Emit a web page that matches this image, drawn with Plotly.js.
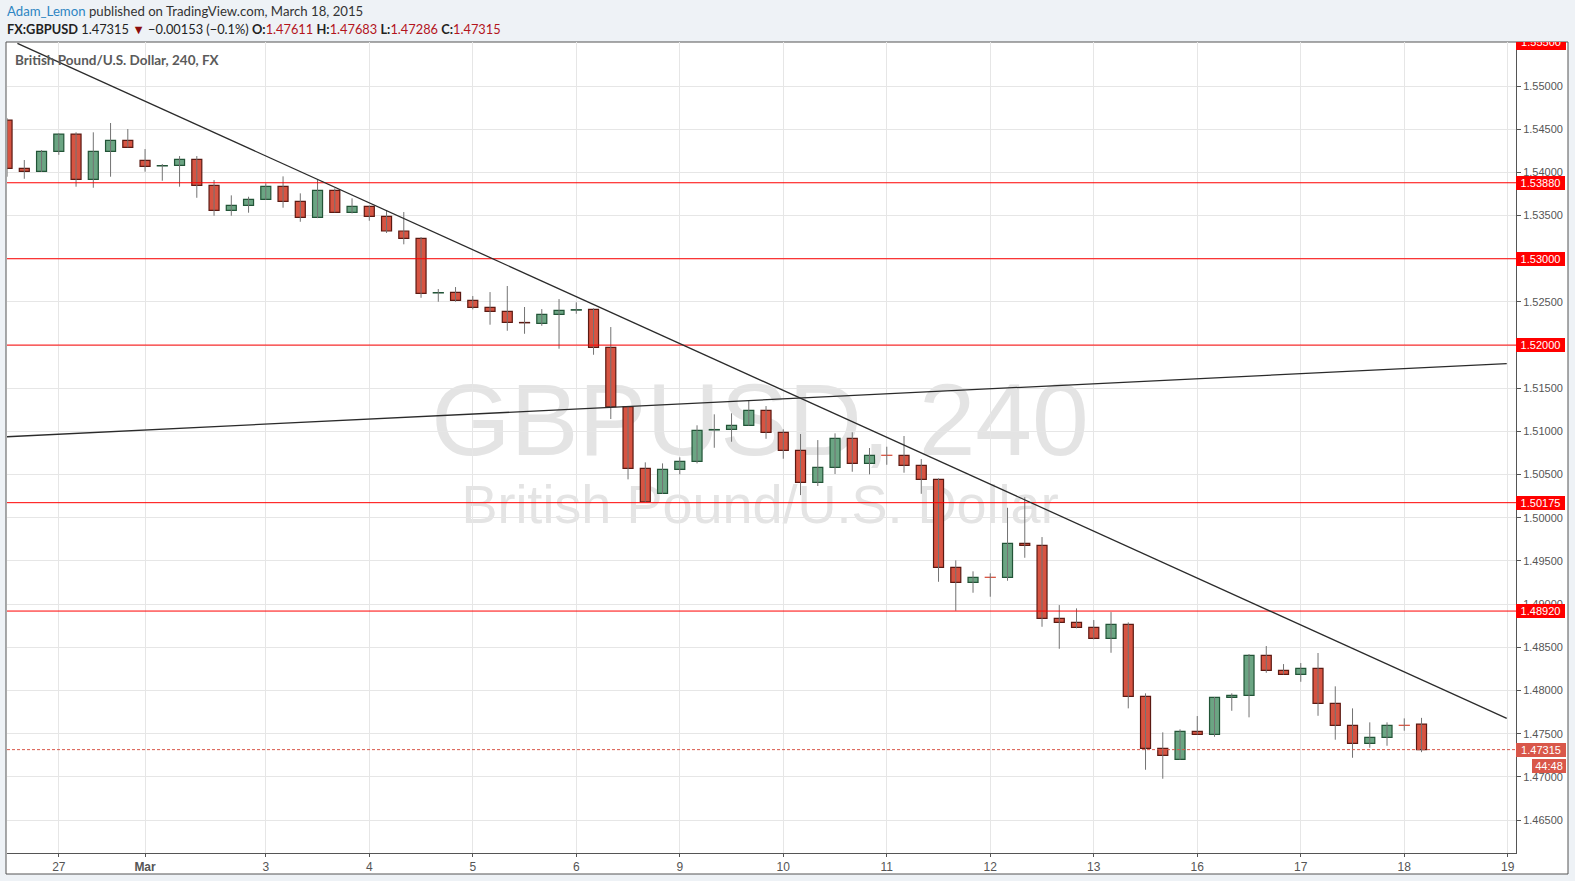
<!DOCTYPE html>
<html><head><meta charset="utf-8">
<script src="https://cdn.plot.ly/plotly-3.0.1.min.js"></script>
<style>html,body{margin:0;padding:0;background:#eef2f6;overflow:hidden}#chart{width:1575px;height:881px;position:relative}
.clipbox{position:absolute;overflow:hidden;z-index:10}
.clipbox div{position:absolute;left:0;background:#ff0000;color:#fff;font:11px "Liberation Sans",Arial,sans-serif;text-align:center}
</style>
</head><body><div id="chart"></div>
<script>
// 4-hour candles, index 0..82 (weekend gaps removed)
const openP = [1.54606,1.54047,1.54012,1.54244,1.54444,1.53919,1.54244,1.54371,1.54140,1.54075,
1.54082,1.54151,1.53850,1.53560,1.53618,1.53688,1.53838,1.53665,1.53479,1.53792,
1.53537,1.53607,1.53491,1.53321,1.53236,1.52604,1.52611,1.52518,1.52437,1.52391,
1.52262,1.52252,1.52356,1.52405,1.52414,1.51974,1.51286,1.50573,1.50283,1.50561,
1.50654,1.51017,1.51024,1.51071,1.51244,1.50990,1.50781,1.50410,1.50584,1.50920,
1.50630,1.50723,1.50723,1.50607,1.50445,1.49426,1.49252,1.49310,1.49310,1.49704,
1.49681,1.48835,1.48789,1.48731,1.48604,1.48766,1.47932,1.47330,1.47203,1.47527,
1.47492,1.47921,1.47944,1.48407,1.48233,1.48187,1.48256,1.47851,1.47596,1.47388,
1.47457,1.47596,1.47611];
const highP = [1.54629,1.54143,1.54259,1.54452,1.54464,1.54464,1.54572,1.54502,1.54270,1.54097,
1.54189,1.54189,1.53911,1.53734,1.53718,1.53873,1.53954,1.53757,1.53911,1.53815,
1.53699,1.53615,1.53564,1.53541,1.53251,1.52649,1.52672,1.52568,1.52614,1.52684,
1.52441,1.52417,1.52533,1.52495,1.52426,1.52209,1.51295,1.50642,1.50630,1.50700,
1.51071,1.51198,1.51210,1.51352,1.51294,1.51024,1.50970,1.50900,1.50978,1.50990,
1.50808,1.50823,1.50947,1.50680,1.50457,1.49507,1.49380,1.49357,1.50116,1.50237,
1.49777,1.48989,1.48951,1.48816,1.48908,1.48789,1.47967,1.47515,1.47550,1.47704,
1.47925,1.47967,1.48422,1.48515,1.48306,1.48318,1.48434,1.48048,1.47793,1.47631,
1.47631,1.47677,1.47683];
const lowP = [1.53950,1.53926,1.54005,1.54204,1.53834,1.53822,1.53950,1.54290,1.54008,1.53903,
1.53834,1.53706,1.53498,1.53498,1.53533,1.53680,1.53591,1.53428,1.53470,1.53537,
1.53525,1.53440,1.53298,1.53167,1.52548,1.52502,1.52502,1.52414,1.52236,1.52166,
1.52131,1.52224,1.51958,1.52363,1.51888,1.51144,1.50445,1.50184,1.50275,1.50503,
1.50630,1.50811,1.50881,1.51068,1.50915,1.50684,1.50263,1.50368,1.50507,1.50533,
1.50503,1.50614,1.50522,1.50278,1.49259,1.48923,1.49132,1.49086,1.49271,1.49537,
1.48738,1.48483,1.48720,1.48592,1.48437,1.47793,1.47082,1.46978,1.47198,1.47490,
1.47464,1.47765,1.47689,1.48205,1.48185,1.48101,1.47707,1.47430,1.47221,1.47337,
1.47360,1.47534,1.47286];
const closeP = [1.54047,1.54012,1.54244,1.54444,1.53919,1.54244,1.54371,1.54290,1.54070,1.54079,
1.54151,1.53850,1.53560,1.53618,1.53688,1.53838,1.53665,1.53479,1.53792,1.53537,
1.53607,1.53491,1.53321,1.53236,1.52599,1.52608,1.52518,1.52437,1.52391,1.52263,
1.52258,1.52356,1.52402,1.52410,1.51974,1.51286,1.50573,1.50186,1.50561,1.50654,
1.51013,1.51022,1.51071,1.51244,1.50990,1.50781,1.50410,1.50584,1.50920,1.50630,
1.50723,1.50723,1.50607,1.50445,1.49426,1.49252,1.49310,1.49310,1.49704,1.49681,
1.48835,1.48789,1.48731,1.48604,1.48766,1.47932,1.47330,1.47249,1.47527,1.47492,
1.47921,1.47944,1.48407,1.48233,1.48187,1.48256,1.47851,1.47596,1.47388,1.47457,
1.47596,1.47596,1.47315];

const tickIdx = [3,8,15,21,27,33,39,45,51,57,63,69,75,81,87];
const tickText = ['27','<b>Mar</b>','3','4','5','6','9','10','11','12','13','16','17','18','19'];
const levels = [1.5388, 1.53, 1.52, 1.50175, 1.4892];
const topLevel = 1.555;
const lastPrice = 1.47315;
const countdown = '44:48';
const trendDown = [[0.6, 1.55494], [86.94, 1.47678]];
const trendUp = [[-0.05, 1.50938], [86.94, 1.51785]];

const GREEN='#6ba583', GREEN_D='#225437', RED='#d75442', RED_D='#5b1a13';

const n = openP.length;
const wx = [], wy = [];
for (let i = 0; i < n; i++) { wx.push(i, i, null); wy.push(highP[i], lowP[i], null); }

function bodies(up) {
  const x = [], base = [], h = [], lc = [];
  for (let i = 0; i < n; i++) {
    const isUp = closeP[i] > openP[i];
    if (isUp !== up) continue;
    const d = Math.abs(closeP[i] - openP[i]);
    x.push(i);
    base.push(Math.min(openP[i], closeP[i]));
    h.push(Math.max(d, 0.00001));
    lc.push(d < 0.00002 ? (up ? GREEN : RED) : (up ? GREEN_D : RED_D));
  }
  return {x, base, h, lc};
}
const U = bodies(true), D = bodies(false);

const traces = [
  {type:'scatter', mode:'lines', x:wx, y:wy, line:{color:'#737373', width:1}, hoverinfo:'skip', connectgaps:false},
  {type:'bar', x:U.x, base:U.base, y:U.h, width:0.58, marker:{color:GREEN, line:{color:U.lc, width:1.2}}, hoverinfo:'skip'},
  {type:'bar', x:D.x, base:D.base, y:D.h, width:0.58, marker:{color:RED, line:{color:D.lc, width:1.2}}, hoverinfo:'skip'}
];

const yTicks = [];
for (let k = 0; k <= 17; k++) yTicks.push(+(1.465 + k * 0.005).toFixed(3));

const W = 1575, H = 881, ML = 7, MR = 59, MT = 42, MB = 28;
const PW = W - ML - MR, PH = H - MT - MB;
const px = v => (v - ML) / PW;       // page x -> paper
const py = v => (H - MB - v) / PH;   // page y -> paper

const shapes = [
  {type:'rect', xref:'paper', yref:'paper', x0:px(6), x1:px(1568), y0:py(874), y1:py(42), fillcolor:'#ffffff', line:{color:'#555555', width:1}, layer:'below'},
  {type:'rect', xref:'paper', yref:'paper', x0:px(300), x1:px(1220), y0:py(465), y1:py(355), fillcolor:'rgba(0,0,0,0)', line:{width:0}, layer:'below',
    label:{text:'GBPUSD, 240', font:{family:'"Liberation Sans", Arial, sans-serif', size:102, color:'#e4e4e4'}, textposition:'middle center'}},
  {type:'rect', xref:'paper', yref:'paper', x0:px(300), x1:px(1220), y0:py(531), y1:py(466), fillcolor:'rgba(0,0,0,0)', line:{width:0}, layer:'below',
    label:{text:'British Pound/U.S. Dollar', font:{family:'"Liberation Sans", Arial, sans-serif', size:54, color:'#e4e4e4'}, textposition:'middle center'}},
];
levels.forEach(l => shapes.push({type:'line', xref:'paper', x0:0, x1:1, yref:'y', y0:l, y1:l, line:{color:'#ff0000', width:1}, layer:'above'}));
shapes.push({type:'line', xref:'x', yref:'y', x0:trendDown[0][0], y0:trendDown[0][1], x1:trendDown[1][0], y1:trendDown[1][1], line:{color:'#2b2b2b', width:1.3}, layer:'above'});
shapes.push({type:'line', xref:'x', yref:'y', x0:trendUp[0][0], y0:trendUp[0][1], x1:trendUp[1][0], y1:trendUp[1][1], line:{color:'#2b2b2b', width:1.3}, layer:'above'});
shapes.push({type:'line', xref:'paper', x0:0, x1:1, yref:'y', y0:lastPrice, y1:lastPrice, line:{color:'#d9574a', width:1, dash:'3px,2px'}, layer:'above'});

const lblFont = {family:'"Liberation Sans", Arial, sans-serif', size:11, color:'#ffffff'};
const annotations = [
  {xref:'paper', yref:'paper', x:px(5), y:py(11), xanchor:'left', yanchor:'middle', showarrow:false,
   text:'<span style="color:#2f86c3">Adam_Lemon</span> published on TradingView.com, March 18, 2015',
   font:{family:'Lato, "Open Sans", sans-serif', size:13.2, color:'#333333'}},
  {xref:'paper', yref:'paper', x:px(5), y:py(29), xanchor:'left', yanchor:'middle', showarrow:false,
   text:'<b>FX:GBPUSD</b> 1.47315 <span style="color:#8b0c0c">▼</span> −0.00153 (−0.1%) <b>O:</b><span style="color:#b3141c">1.47611</span> <b>H:</b><span style="color:#b3141c">1.47683</span> <b>L:</b><span style="color:#b3141c">1.47286</span> <b>C:</b><span style="color:#b3141c">1.47315</span>',
   font:{family:'Lato, "Open Sans", sans-serif', size:12.8, color:'#222222'}},
  {xref:'paper', yref:'paper', x:px(13), y:py(60), xanchor:'left', yanchor:'middle', showarrow:false,
   text:'<b>British Pound/U.S. Dollar, 240, FX</b>', font:{family:'Lato, "Open Sans", sans-serif', size:13.5, color:'#5a5a5a'}},
];
levels.forEach(l => annotations.push({xref:'paper', x:1, xanchor:'left', yref:'y', y:l, yanchor:'middle', showarrow:false,
  text:l.toFixed(5), bgcolor:'#ff0000', font:lblFont, width:46, height:11, borderpad:1.5, borderwidth:0}));
annotations.push({xref:'paper', x:1, xanchor:'left', yref:'y', y:lastPrice, yanchor:'middle', showarrow:false,
  text:lastPrice.toFixed(5), bgcolor:'#d9574a', font:lblFont, width:46, height:10, borderpad:2, borderwidth:0});
annotations.push({xref:'paper', x:px(1532), xanchor:'left', yref:'y', y:lastPrice, yanchor:'top', yshift:-9, showarrow:false,
  text:countdown, bgcolor:'#d9574a', font:lblFont, width:30, height:10, borderpad:2, borderwidth:0});

const layout = {
  width:W, height:H, margin:{l:ML, r:MR, t:MT, b:MB}, paper_bgcolor:'#eef2f6', plot_bgcolor:'#ffffff',
  showlegend:false, barmode:'overlay', bargap:0, hovermode:false,
  xaxis:{range:[-0.003, 87.477], tickmode:'array', tickvals:tickIdx, ticktext:tickText, showgrid:true, gridcolor:'#e6e6e6', gridwidth:1,
    zeroline:false, showline:true, linecolor:'#555555', linewidth:1, ticks:'outside', ticklen:3, tickcolor:'#555555',
    tickfont:{family:'"Liberation Sans Narrow", "Liberation Sans", Arial', size:12, color:'#555555'}, fixedrange:true},
  yaxis:{side:'right', range:[1.46118, 1.55510], tickmode:'array', tickvals:yTicks, tickformat:'.5f', showgrid:true, gridcolor:'#e6e6e6', gridwidth:1,
    zeroline:false, showline:true, linecolor:'#555555', linewidth:1, ticks:'outside', ticklen:4, tickcolor:'#555555',
    tickfont:{family:'"Liberation Sans", Arial, sans-serif', size:11, color:'#555555'}, fixedrange:true},
  shapes:shapes, annotations:annotations
};
const gd = document.getElementById('chart');
Plotly.newPlot(gd, traces, layout, {displayModeBar:false, staticPlot:true}).then(() => {
  // label of the 1.55500 level, clipped by the top of the plot area like the reference
  const ya = gd._fullLayout.yaxis, xa = gd._fullLayout.xaxis;
  const yc = ya._offset + ya.l2p(topLevel);
  const top = ya._offset, boxH = 15;
  const clip = document.createElement('div');
  clip.className = 'clipbox';
  clip.style.left = (xa._offset + xa._length) + 'px';
  clip.style.top = top + 'px';
  clip.style.width = '50px';
  clip.style.height = Math.max(0, yc + boxH / 2 - top) + 'px';
  const inner = document.createElement('div');
  inner.style.top = (yc - boxH / 2 - top) + 'px';
  inner.style.width = '50px';
  inner.style.height = boxH + 'px';
  inner.style.lineHeight = boxH + 'px';
  inner.textContent = topLevel.toFixed(5);
  clip.appendChild(inner);
  gd.appendChild(clip);
});
</script></body></html>
